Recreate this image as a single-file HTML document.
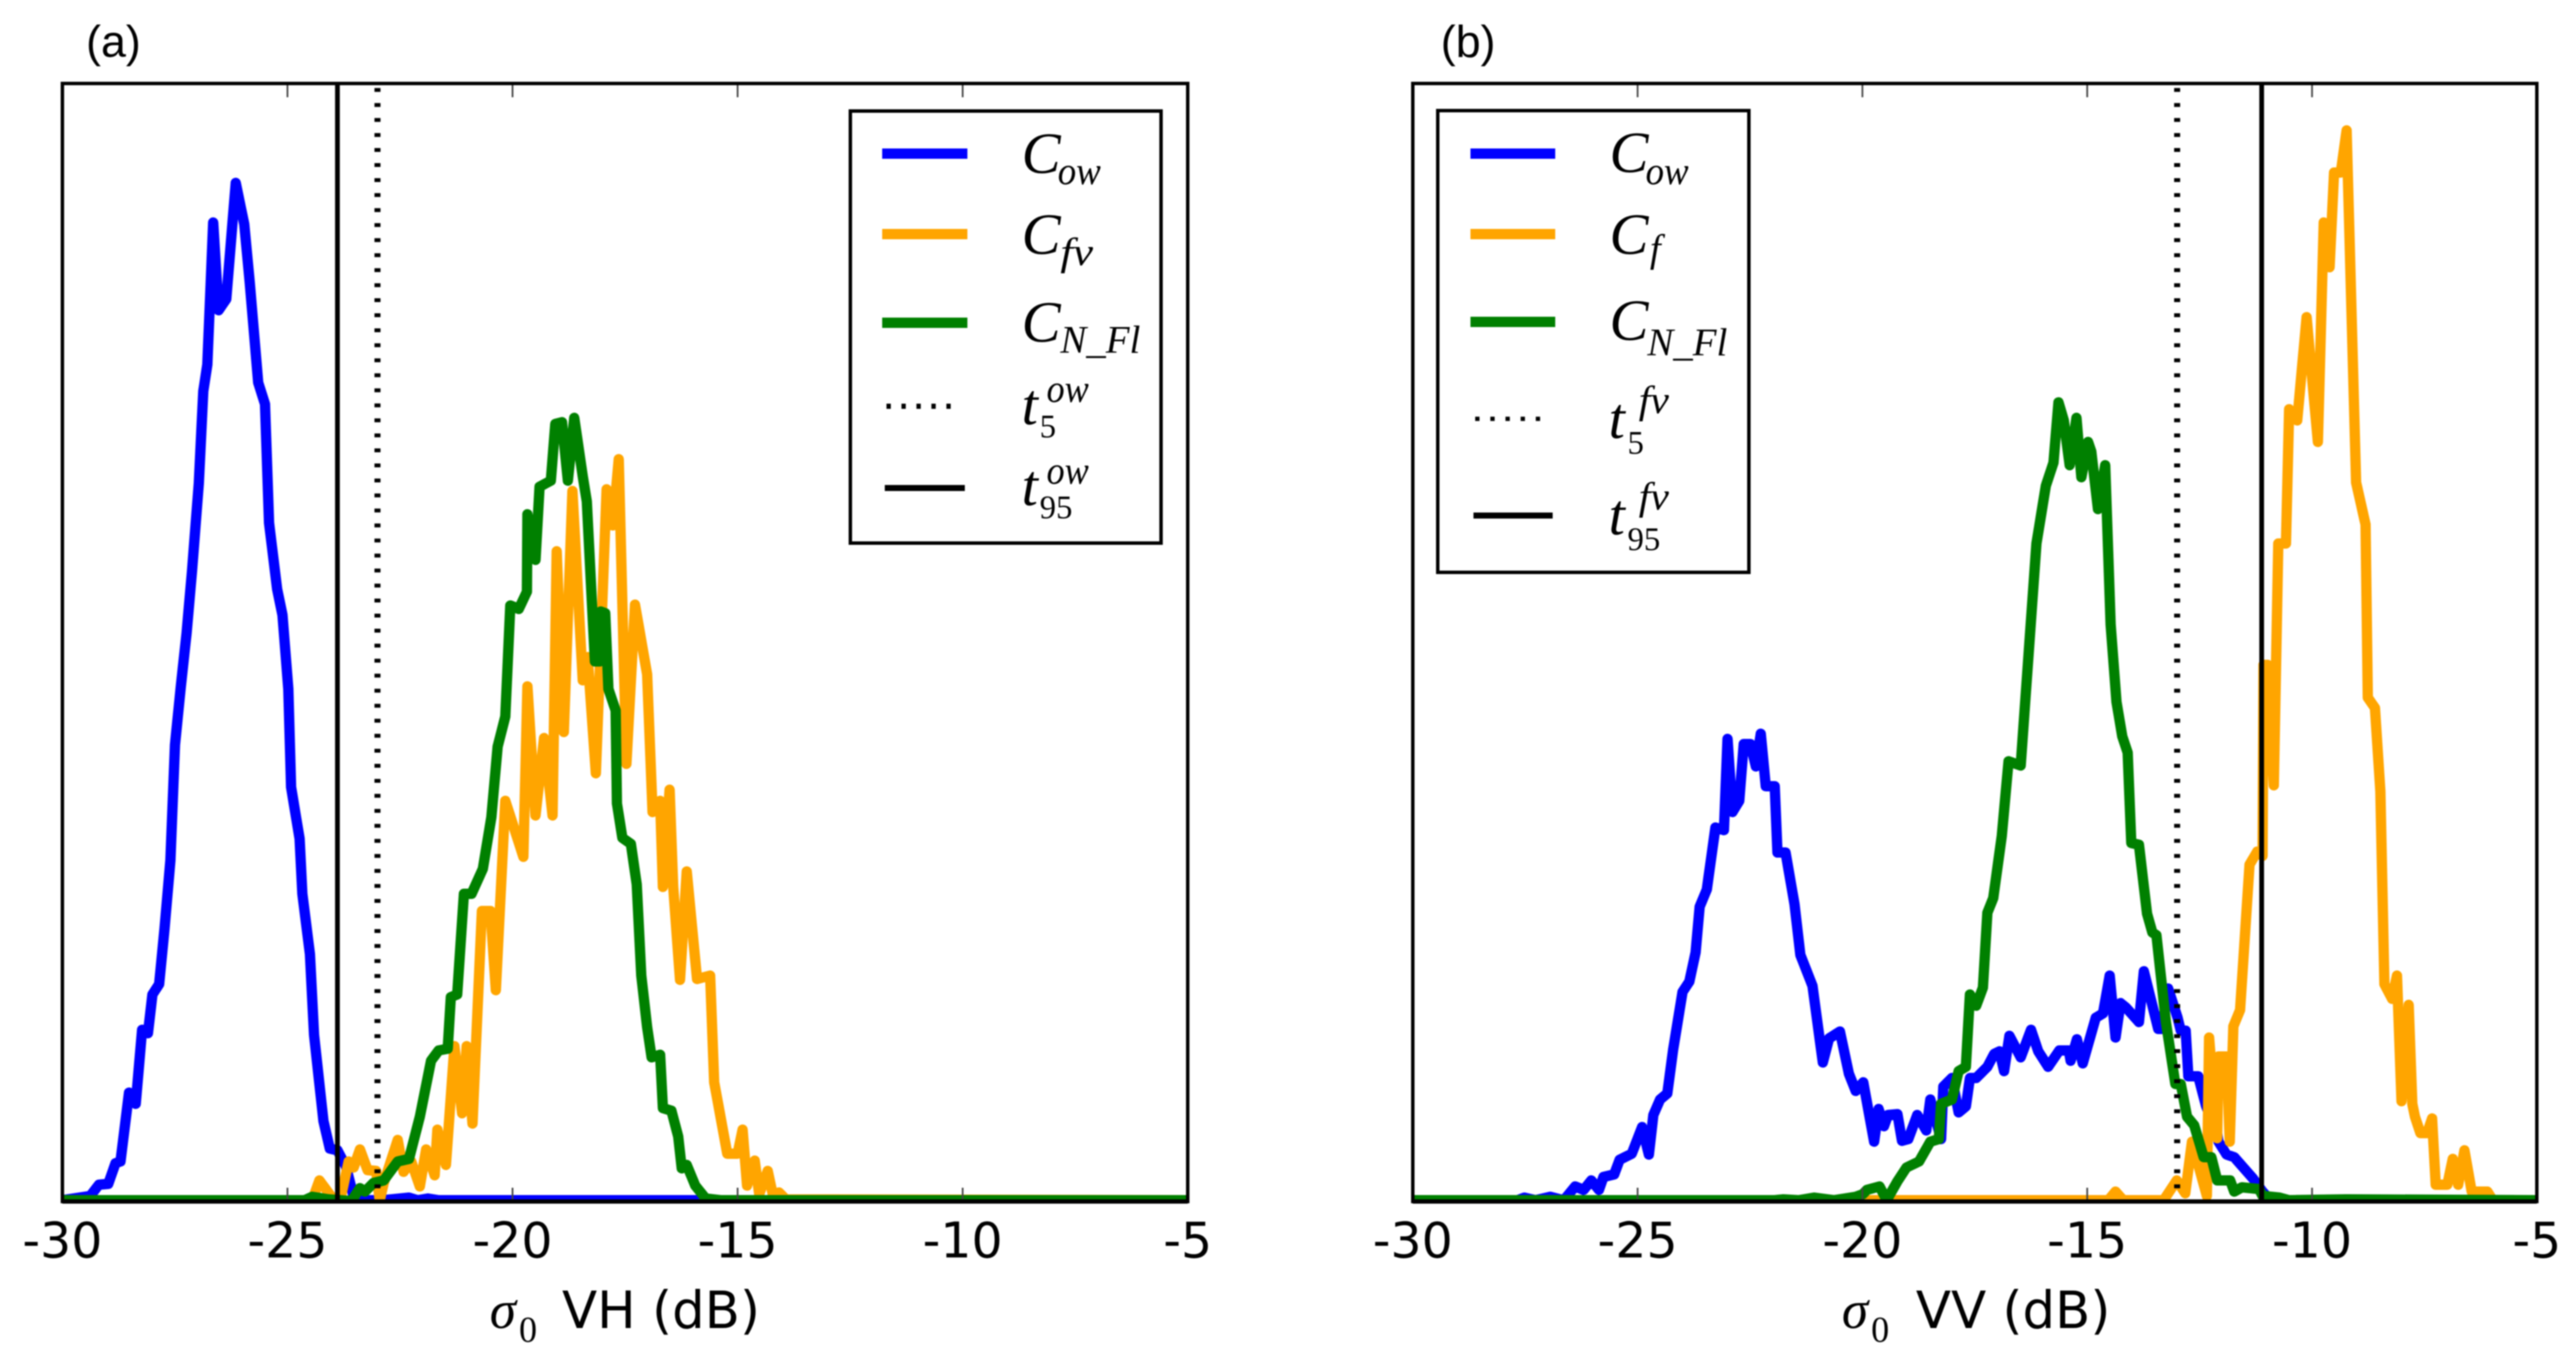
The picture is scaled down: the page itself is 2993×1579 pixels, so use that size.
<!DOCTYPE html>
<html lang="en">
<head>
<meta charset="utf-8">
<title>Backscatter histograms VH and VV</title>
<style>
html,body{margin:0;padding:0;background:#fff;}
body{width:2993px;height:1579px;overflow:hidden;}
svg{display:block;filter:blur(0.8px);}
.tick-label{font-family:"DejaVu Sans","Liberation Sans",sans-serif;font-size:57px;fill:#000;text-anchor:middle;}
.axis-label{font-family:"DejaVu Sans","Liberation Sans",sans-serif;font-size:60px;fill:#000;}
.panel-label{font-family:"Liberation Sans",sans-serif;font-size:52px;fill:#000;}
.m{font-family:"Liberation Serif",serif;font-style:italic;fill:#000;}
.c{font-size:68px;}
.s{font-size:45px;}
.n{font-family:"Liberation Serif",serif;font-size:38px;fill:#000;}
.sigma{font-size:62px;}
.sub0{font-size:42px;}
</style>
</head>
<body>
<svg xmlns="http://www.w3.org/2000/svg" width="2993" height="1579" viewBox="0 0 2993 1579">
  <defs>
    <clipPath id="clip-a"><rect x="72.5" y="97" width="1306" height="1299"/></clipPath>
    <clipPath id="clip-b"><rect x="1641.5" y="97" width="1306" height="1299"/></clipPath>
  </defs>
  <rect x="0" y="0" width="2993" height="1579" fill="#fff"/>
  <g id="panel-a"></g>
  <g id="panel-b"></g>

  <text class="panel-label" x="100" y="66">(a)</text>
  <text class="panel-label" x="1674" y="66">(b)</text>

  <g>
    <text class="m sigma" x="569" y="1543">σ</text>
    <text class="n sub0" x="603" y="1559">0</text>
    <text class="axis-label" x="653" y="1543" textLength="230" lengthAdjust="spacingAndGlyphs">VH (dB)</text>
  </g>
  <g>
    <text class="m sigma" x="2140" y="1543">σ</text>
    <text class="n sub0" x="2174" y="1559">0</text>
    <text class="axis-label" x="2226" y="1543" textLength="226" lengthAdjust="spacingAndGlyphs">VV (dB)</text>
  </g>

  <g>
    <rect x="988" y="129" width="361" height="502" fill="#fff" stroke="#000" stroke-width="4"/>
    <g>
      <line x1="1025" y1="178.5" x2="1124" y2="178.5" stroke="#0000ff" stroke-width="12"/>
      <text class="m c" x="1187" y="201">C</text><text class="m s" x="1229" y="214" textLength="50" lengthAdjust="spacingAndGlyphs">ow</text>
    </g>
    <g>
      <line x1="1025" y1="272" x2="1124" y2="272" stroke="#ffa500" stroke-width="12"/>
      <text class="m c" x="1187" y="295">C</text><text class="m s" x="1232" y="308" textLength="38" lengthAdjust="spacingAndGlyphs">fv</text>
    </g>
    <g>
      <line x1="1025" y1="375" x2="1124" y2="375" stroke="#008000" stroke-width="12"/>
      <text class="m c" x="1187" y="397">C</text><text class="m s" x="1232" y="410" textLength="93" lengthAdjust="spacingAndGlyphs">N_Fl</text>
    </g>
    <g>
      <line x1="1030" y1="472" x2="1110" y2="472" stroke="#000" stroke-width="6" stroke-dasharray="5 12.4"/>
      <text class="m c" x="1187" y="493">t</text><text class="m s" x="1216" y="467" textLength="49" lengthAdjust="spacingAndGlyphs">ow</text><text class="n" x="1208" y="508">5</text>
    </g>
    <g>
      <line x1="1028" y1="567" x2="1121" y2="567" stroke="#000" stroke-width="7"/>
      <text class="m c" x="1187" y="587">t</text><text class="m s" x="1216" y="562" textLength="49" lengthAdjust="spacingAndGlyphs">ow</text><text class="n" x="1208" y="602">95</text>
    </g>
  </g>

  <g>
    <rect x="1670.5" y="128.5" width="361.5" height="536.5" fill="#fff" stroke="#000" stroke-width="4"/>
    <g>
      <line x1="1708.5" y1="178.5" x2="1807" y2="178.5" stroke="#0000ff" stroke-width="12"/>
      <text class="m c" x="1870" y="200">C</text><text class="m s" x="1912" y="214" textLength="50" lengthAdjust="spacingAndGlyphs">ow</text>
    </g>
    <g>
      <line x1="1708.5" y1="272" x2="1807" y2="272" stroke="#ffa500" stroke-width="12"/>
      <text class="m c" x="1870" y="295">C</text><text class="m s" x="1917" y="304">f</text>
    </g>
    <g>
      <line x1="1708.5" y1="374" x2="1807" y2="374" stroke="#008000" stroke-width="12"/>
      <text class="m c" x="1870" y="395">C</text><text class="m s" x="1914" y="413" textLength="93" lengthAdjust="spacingAndGlyphs">N_Fl</text>
    </g>
    <g>
      <line x1="1714" y1="486.6" x2="1792" y2="486.6" stroke="#000" stroke-width="5" stroke-dasharray="5 12.6"/>
      <text class="m c" x="1869" y="509">t</text><text class="m s" x="1904" y="480" textLength="35" lengthAdjust="spacingAndGlyphs">fv</text><text class="n" x="1891" y="527">5</text>
    </g>
    <g>
      <line x1="1712" y1="599" x2="1804" y2="599" stroke="#000" stroke-width="7"/>
      <text class="m c" x="1869" y="621">t</text><text class="m s" x="1904" y="592" textLength="35" lengthAdjust="spacingAndGlyphs">fv</text><text class="n" x="1891" y="639">95</text>
    </g>
  </g>
</svg>

<script>
const xTickValues = [-30, -25, -20, -15, -10, -5];
const xTickLabels = ['-30', '-25', '-20', '-15', '-10', '-5'];

const vhOwDb = [-30,-29.38,-29.19,-28.98,-28.82,-28.71,-28.52,-28.37,-28.23,-28.10,-28.00,-27.85,-27.73,-27.60,-27.50,-27.37,-27.24,-27.12,-26.97,-26.87,-26.78,-26.65,-26.53,-26.36,-26.15,-25.96,-25.84,-25.65,-25.50,-25.41,-25.23,-25.11,-24.98,-24.92,-24.73,-24.67,-24.50,-24.41,-24.20,-24.06,-23.89,-23.70,-23.51,-22.88,-22.30,-22.11,-21.88,-21.64,-5];
const vhOwDensity = [0.1,0.6,1.9,2.0,4.4,4.6,12.6,11.3,19.9,19.5,24.0,25.2,31.7,39.6,53.0,59.7,66.0,73.2,83.4,94.1,97.2,113.7,103.5,104.8,118.3,113.5,106.8,95.1,92.6,78.8,71.1,68.1,59.5,48.1,42.1,35.7,28.7,19.3,9.3,6.1,5.9,4.0,0.1,0.1,0.4,0.1,0.3,0.1,0.1];

const vhFvDb = [-30,-24.45,-24.29,-24.01,-23.83,-23.64,-23.53,-23.39,-23.22,-23.03,-22.95,-22.86,-22.55,-22.42,-22.25,-22.06,-21.92,-21.73,-21.67,-21.48,-21.29,-21.12,-21.02,-20.89,-20.68,-20.49,-20.37,-20.16,-19.76,-19.67,-19.49,-19.30,-19.11,-19.02,-18.86,-18.67,-18.44,-18.33,-18.15,-17.91,-17.77,-17.64,-17.47,-17.28,-17.01,-16.89,-16.72,-16.66,-16.51,-16.43,-16.28,-16.13,-15.90,-15.61,-15.52,-15.23,-15.00,-14.89,-14.79,-14.62,-14.52,-14.33,-14.22,-14.08,-13.93,-5];
const vhFvDensity = [0.1,0.1,2.4,0.4,0.1,4.6,3.9,6.0,3.6,3.5,0.1,2.1,7.1,3.4,4.6,1.7,6.0,3.0,8.3,4.2,18.0,10.2,18.0,9.0,33.7,33.7,24.5,46.5,40.0,59.8,44.8,53.8,44.8,75.5,54.5,82.5,60.5,63.2,49.7,82.7,78.5,86.2,50.8,69.3,61.2,45.2,46.5,36.5,47.8,36.5,25.7,38.3,25.8,26.2,13.8,5.5,5.5,8.3,1.8,4.7,0.8,3.5,0.8,1.0,0.2,0.1];

const vhNflDb = [-30,-24.62,-24.45,-24.08,-23.58,-23.39,-23.28,-23.09,-22.86,-22.55,-22.30,-22.06,-21.81,-21.64,-21.44,-21.37,-21.23,-21.08,-20.91,-20.66,-20.47,-20.33,-20.16,-20.05,-19.86,-19.68,-19.67,-19.49,-19.40,-19.15,-19.05,-18.90,-18.77,-18.63,-18.44,-18.35,-18.23,-18.17,-18.06,-18.04,-17.94,-17.87,-17.71,-17.68,-17.56,-17.37,-17.24,-17.14,-17.01,-16.91,-16.72,-16.66,-16.47,-16.32,-16.24,-16.13,-15.94,-15.71,-15.38,-5];
const vhNflDensity = [0.1,0.1,0.5,0.2,0,1.5,1.1,2.1,2.4,4.6,4.9,9.8,16.3,17.5,17.7,23.7,24.0,35.7,35.7,38.6,44.6,52.8,56.3,69.2,68.8,70.8,79.8,74.5,83.0,83.7,90.3,90.5,83.7,91.0,84.2,81.3,68.8,62.7,62.7,68.5,68.3,59.5,57.0,46.2,42.2,41.5,36.8,26.2,20.2,16.7,17.0,10.8,10.5,7.5,3.8,4.2,1.8,0.3,0.1,0.1];

const vhThresholdsDb = [-23.0, -23.89];

const vvOwDb = [-30,-27.67,-27.52,-27.27,-26.94,-26.64,-26.39,-26.20,-26.03,-25.86,-25.76,-25.52,-25.40,-25.13,-24.90,-24.75,-24.65,-24.50,-24.34,-24.21,-24.00,-23.85,-23.71,-23.62,-23.46,-23.27,-23.08,-23.00,-22.89,-22.74,-22.64,-22.49,-22.37,-22.26,-22.15,-21.95,-21.89,-21.71,-21.51,-21.38,-21.11,-20.88,-20.74,-20.50,-20.30,-20.15,-19.98,-19.74,-19.64,-19.52,-19.43,-19.22,-19.12,-18.98,-18.78,-18.58,-18.49,-18.25,-18.20,-18.01,-17.86,-17.70,-17.61,-17.47,-17.22,-17.07,-16.95,-16.85,-16.73,-16.48,-16.25,-16.09,-15.87,-15.62,-15.41,-15.37,-15.23,-15.10,-14.81,-14.65,-14.50,-14.37,-14.26,-14.14,-13.85,-13.74,-13.42,-13.34,-13.20,-12.99,-12.92,-12.81,-12.75,-12.53,-12.36,-12.11,-12.08,-11.90,-11.73,-11.31,-11.10,-10.93,-5];
const vvOwDensity = [0.1,0.1,0.4,0.1,0.5,0.1,1.7,1.3,2.4,1.3,2.8,3.1,4.8,5.5,8.6,5.4,10.0,11.8,12.5,17.6,24.3,25.5,28.9,34.2,36.2,43.4,43.1,53.7,45.2,46.5,53.1,53.1,50.5,54.3,48.2,48.2,40.5,40.5,34.5,28.6,25.0,16.1,18.9,19.7,14.8,12.8,13.8,6.9,10.7,8.7,10.0,10.1,7.0,7.2,10.0,8.2,11.8,7.2,13.3,14.3,10.3,11.0,14.3,14.3,15.6,17.1,17.4,15.1,19.2,16.7,19.9,17.4,15.6,17.5,17.5,16.3,18.8,16.0,21.3,21.8,26.2,19.0,23.0,22.5,20.8,26.7,20.0,20.0,24.7,21.3,19.8,19.8,14.5,14.5,11.1,7.8,6.9,5.4,5.1,2.6,1.1,0.1,0.1];

const vvFDb = [-30,-14.53,-14.37,-14.20,-13.30,-13.01,-12.82,-12.67,-12.34,-12.29,-12.11,-12.08,-11.90,-11.83,-11.75,-11.60,-11.39,-11.22,-11.10,-11.08,-10.99,-10.85,-10.75,-10.58,-10.51,-10.33,-10.12,-9.87,-9.74,-9.61,-9.51,-9.36,-9.23,-9.02,-8.81,-8.76,-8.60,-8.48,-8.39,-8.22,-8.11,-8.01,-7.85,-7.77,-7.71,-7.59,-7.44,-7.33,-7.25,-6.99,-6.87,-6.75,-6.61,-6.45,-6.10,-5.98,-5];
const vvFDensity = [0.1,0.1,1.1,0.1,0.1,2.4,0.9,6.9,0.6,19.0,7.3,16.8,16.8,6.9,20.3,22.2,39.1,40.6,40.1,62.3,62.3,48.3,76.4,76.4,92.0,90.7,102.7,88.2,113.7,108.5,119.5,119.5,124.4,83.5,78.6,58.5,57.3,47.6,25.2,23.5,26.2,11.6,22.8,11.3,9.8,7.9,7.9,9.6,1.9,1.9,4.9,1.9,5.9,1.1,1.1,0.1,0.1];

const vvNflDb = [-30,-21.95,-21.76,-21.42,-21.08,-20.64,-20.15,-19.99,-19.90,-19.62,-19.46,-19.22,-19.02,-18.74,-18.49,-18.30,-18.25,-18.01,-17.86,-17.70,-17.61,-17.47,-17.32,-17.22,-17.09,-16.90,-16.75,-16.48,-16.36,-16.13,-15.92,-15.75,-15.64,-15.52,-15.39,-15.24,-15.13,-14.98,-14.91,-14.76,-14.60,-14.48,-14.35,-14.22,-14.10,-14.02,-13.85,-13.67,-13.55,-13.46,-13.25,-13.04,-12.92,-12.78,-12.62,-12.41,-12.24,-12.11,-11.82,-11.73,-11.56,-11.18,-11.10,-10.72,-10.51,-9.24,-5];
const vvNflDensity = [0.1,0.1,0.2,0.1,0.4,0.1,0.5,0.8,1.3,1.7,0.1,2.3,3.9,4.6,6.9,7.2,11.3,11.8,15.1,15.6,24.0,22.7,24.8,33.5,35.2,42.4,51.1,50.6,59.5,76.4,83.1,85.8,92.8,90.7,85.5,91.0,84.1,88.2,87.1,80.4,85.5,67.0,58.0,54.0,52.1,41.6,41.4,33.4,31.2,30.9,20.8,13.6,13.6,9.8,8.8,5.1,5.1,2.4,2.4,1.1,1.6,1.4,0.6,0.4,0.1,0.2,0.1];

const vvThresholdsDb = [-13.0, -11.12];

const SVG_NS = 'http://www.w3.org/2000/svg';
const axisTop = 97;
const axisBottom = 1396;

function yScale(v) { return axisBottom - 0.5 - v * 10; }
function xScaleA(db) { return 72.5 + (db + 30) * 52.3; }
function xScaleB(db) { return 1641.5 + (db + 30) * 52.24; }

function makeEl(tag, parent) {
  const el = document.createElementNS(SVG_NS, tag);
  parent.appendChild(el);
  return el;
}

function drawSeries(group, clipId, xs, ys, xFn, color, seriesName) {
  const pts = [];
  const n = Math.min(xs.length, ys.length);
  for (let i = 0; i < n; i++) {
    pts.push(xFn(xs[i]).toFixed(1) + ',' + yScale(ys[i]).toFixed(1));
  }
  const line = makeEl('polyline', group);
  
  
  line.setAttribute('points', pts.join(' '));
  line.setAttribute('fill', 'none');
  line.setAttribute('stroke', color);
  line.setAttribute('stroke-width', '12');
  line.setAttribute('stroke-linejoin', 'round');
  line.setAttribute('clip-path', 'url(#' + clipId + ')');
}

function drawThresholds(group, values, xFn) {
  const dotted = makeEl('line', group);
  
  
  dotted.setAttribute('x1', xFn(values[0]));
  dotted.setAttribute('x2', xFn(values[0]));
  dotted.setAttribute('y1', 1380.6);
  dotted.setAttribute('y2', axisTop);
  dotted.setAttribute('stroke', '#000');
  dotted.setAttribute('stroke-width', '7');
  dotted.setAttribute('stroke-dasharray', '4.5 12.95');

  const solid = makeEl('line', group);
  
  
  solid.setAttribute('x1', xFn(values[1]));
  solid.setAttribute('x2', xFn(values[1]));
  solid.setAttribute('y1', axisTop);
  solid.setAttribute('y2', axisBottom);
  solid.setAttribute('stroke', '#000');
  solid.setAttribute('stroke-width', '5.5');
}

function drawAxes(group, xFn) {
  for (let i = 0; i < xTickValues.length; i++) {
    const px = xFn(xTickValues[i]);

    const bottomTick = makeEl('line', group);
    
    
    bottomTick.setAttribute('x1', px);
    bottomTick.setAttribute('x2', px);
    bottomTick.setAttribute('y1', axisBottom);
    bottomTick.setAttribute('y2', axisBottom - 16);
    bottomTick.setAttribute('stroke', '#444');
    bottomTick.setAttribute('stroke-width', '2');

    const topTick = makeEl('line', group);
    
    
    topTick.setAttribute('x1', px);
    topTick.setAttribute('x2', px);
    topTick.setAttribute('y1', axisTop);
    topTick.setAttribute('y2', axisTop + 16);
    topTick.setAttribute('stroke', '#444');
    topTick.setAttribute('stroke-width', '2');

    const label = makeEl('text', group);
    
    
    label.setAttribute('class', 'tick-label');
    label.setAttribute('x', px);
    label.setAttribute('y', 1461);
    label.textContent = xTickLabels[i];
  }

  const frame = makeEl('rect', group);
  
  
  frame.setAttribute('x', xFn(-30));
  frame.setAttribute('y', axisTop);
  frame.setAttribute('width', xFn(-5) - xFn(-30));
  frame.setAttribute('height', axisBottom - axisTop);
  frame.setAttribute('fill', 'none');
  frame.setAttribute('stroke', '#000');
  frame.setAttribute('stroke-width', '4');

  const base = makeEl('line', group);
  
  
  base.setAttribute('x1', xFn(-30));
  base.setAttribute('x2', xFn(-5));
  base.setAttribute('y1', axisBottom);
  base.setAttribute('y2', axisBottom);
  base.setAttribute('stroke', '#000');
  base.setAttribute('stroke-width', '5');
}

const panelA = document.getElementById('panel-a');
drawSeries(panelA, 'clip-a', vhOwDb, vhOwDensity, xScaleA, '#0000ff', 'series-c-ow');
drawSeries(panelA, 'clip-a', vhFvDb, vhFvDensity, xScaleA, '#ffa500', 'series-c-fv');
drawSeries(panelA, 'clip-a', vhNflDb, vhNflDensity, xScaleA, '#008000', 'series-c-n-fl');
drawThresholds(panelA, vhThresholdsDb, xScaleA);
drawAxes(panelA, xScaleA);

const panelB = document.getElementById('panel-b');
drawSeries(panelB, 'clip-b', vvOwDb, vvOwDensity, xScaleB, '#0000ff', 'series-c-ow');
drawSeries(panelB, 'clip-b', vvFDb, vvFDensity, xScaleB, '#ffa500', 'series-c-f');
drawSeries(panelB, 'clip-b', vvNflDb, vvNflDensity, xScaleB, '#008000', 'series-c-n-fl');
drawThresholds(panelB, vvThresholdsDb, xScaleB);
drawAxes(panelB, xScaleB);
</script>
</body>
</html>
